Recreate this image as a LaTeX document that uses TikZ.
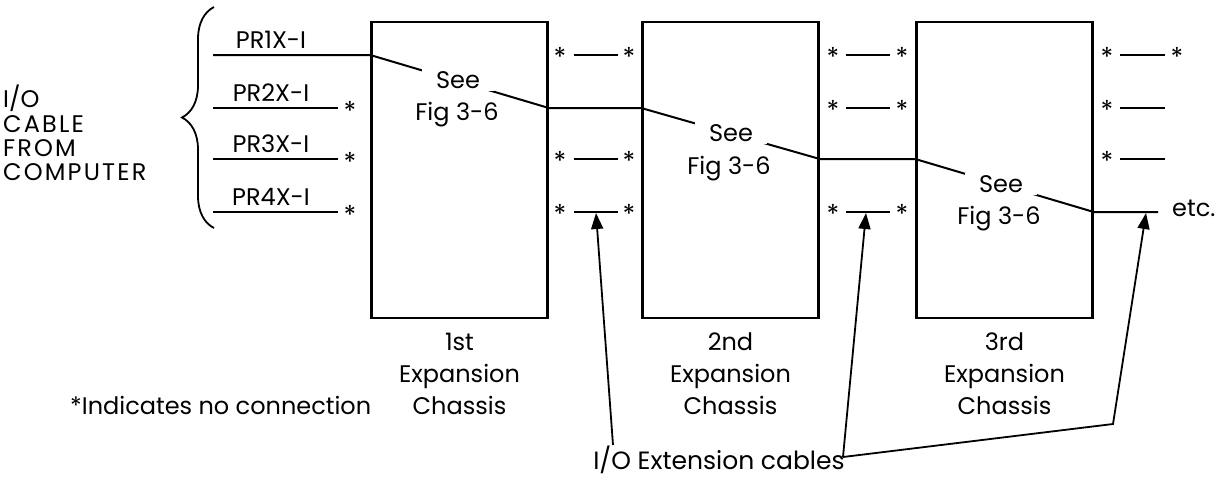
\documentclass[tikz,border=0pt]{standalone}
\usepackage{fontspec}
\setmainfont{Poppins}
\usetikzlibrary{arrows.meta,decorations.pathreplacing}
\begin{document}
\begin{tikzpicture}[x=1pt,y=-1pt,
  chassis/.style={draw,line width=2.6pt,minimum width=176pt,minimum height=296pt,inner sep=0pt},
  wire/.style={line width=2pt},
  txt/.style={font=\fontsize{24}{24.5}\selectfont,inner sep=0pt},
  see/.style={txt,fill=white,inner xsep=14pt,inner ysep=2pt},
  star/.style={font=\fontsize{26}{26}\selectfont,inner sep=0pt},
  caption/.style={txt,align=center,font=\fontsize{24}{32}\selectfont,anchor=north},
  arr/.style={line width=1.8pt,-{Triangle[length=16pt,width=12pt]}}
]
\useasboundingbox (0,0) rectangle (1229,483);

% chassis boxes
\node[chassis] (c1) at (459.5,170) {};
\node[chassis] (c2) at (730.5,170) {};
\node[chassis] (c3) at (1004.5,170) {};

% input cable brace and label
\draw[line width=1.8pt,decorate,decoration={brace,amplitude=32pt}] (214,228) -- (214,7);
\node[txt,align=left,anchor=north west,font=\addfontfeature{LetterSpace=9}\fontsize{24}{24.2}\selectfont] (cable) at (3,85) {{\addfontfeature{LetterSpace=0}I/O}\\CABLE\\FROM\\COMPUTER};

% input lines
\coordinate (in1) at (213,55);
\coordinate (in2) at (213,108);
\coordinate (in3) at (213,159);
\coordinate (in4) at (213,212);
\coordinate (e2) at (338,108);
\coordinate (e3) at (338,159);
\coordinate (e4) at (338,212);
\node[txt,anchor=base] (pr1) at (271,48) {PR1X-I};
\node[txt,anchor=base] (pr2) at (271,101) {PR2X-I};
\node[txt,anchor=base] (pr3) at (271,152) {PR3X-I};
\node[txt,anchor=base] (pr4) at (271,205) {PR4X-I};
\draw[wire] (in2) -- (e2);
\draw[wire] (in3) -- (e3);
\draw[wire] (in4) -- (e4);
\node[star] (s2) at (350,111) {*};
\node[star] (s3) at (350,162) {*};
\node[star] (s4) at (350,215) {*};

% main signal route
\coordinate (etcend) at (1158,212);
\draw[wire] (in1) -- (c1.west |- 0,55) -- (c1.east |- 0,108) -- (c2.west |- 0,108)
  -- (c2.east |- 0,159) -- (c3.west |- 0,159) -- (c3.east |- 0,212) -- (etcend);
\node[see] (see1) at (458,80) {See};
\node[see] (see2) at (731,133) {See};
\node[see] (see3) at (1001,184) {See};
\node[txt] (fig1) at (457,115) {Fig 3-6};
\node[txt] (fig2) at (729,169) {Fig 3-6};
\node[txt] (fig3) at (999,219) {Fig 3-6};
\node[txt,anchor=base west] (etc) at (1172,216) {etc.};

% unused connections between chassis
\foreach \y [count=\i] in {55,159,212}{
  \node[star] (ga\i) at (560,\y+2) {*};
  \node[star] (gb\i) at (629,\y+2) {*};
  \draw[wire] (574,\y) -- (618,\y);
}
\foreach \y [count=\i] in {55,108,212}{
  \node[star] (ha\i) at (833,\y+2) {*};
  \node[star] (hb\i) at (902,\y+2) {*};
  \draw[wire] (846,\y) -- (890,\y);
}
\foreach \y [count=\i] in {55,108,159}{
  \node[star] (ka\i) at (1107,\y+2) {*};
  \draw[wire] (1120,\y) -- (1165,\y);
}
\node[star] (kb1) at (1177,57) {*};

% captions
\node[caption] (cap1) at (459.5,333) {1st\\Expansion\\Chassis};
\node[caption] (cap2) at (730.5,333) {2nd\\Expansion\\Chassis};
\node[caption] (cap3) at (1004.5,333) {3rd\\Expansion\\Chassis};

% notes and extension-cable arrows
\node[txt,anchor=west] (note) at (70,405) {*Indicates no connection};
\node[txt,font=\fontsize{25}{25}\selectfont] (ext) at (719,460) {I/O Extension cables};
\coordinate (j1) at (596,213);
\coordinate (j2) at (866,213);
\coordinate (j3) at (1146,213);
\coordinate (t1) at (613,445);
\coordinate (t2) at (843,457);
\coordinate (bend) at (1113,424);
\draw[arr] (t1) -- (j1);
\draw[arr] (t2) -- (j2);
\draw[arr] (t2) -- (bend) -- (j3);
\end{tikzpicture}
\end{document}
